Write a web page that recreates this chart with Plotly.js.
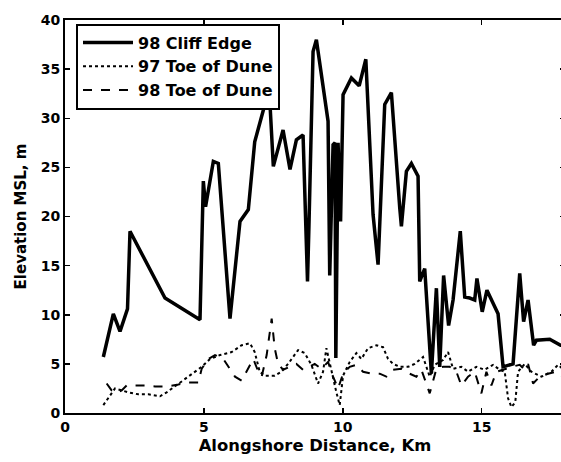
<!DOCTYPE html>
<html>
<head>
<meta charset="utf-8">
<script src="https://cdn.plot.ly/plotly-3.0.1.min.js"></script>
<style>
html,body{margin:0;padding:0;overflow:hidden;background:#fff;}
#chart{width:570px;height:462px;}
</style>
</head>
<body>
<div id="chart"></div>
<script>
// 98 Cliff Edge
const cliffX = [1.38,1.74,1.98,2.25,2.34,3.6,4.86,4.98,5.06,5.34,5.52,5.94,6.3,6.6,6.83,7.19,7.35,7.5,7.85,8.1,8.33,8.57,8.73,8.78,8.93,9.05,9.47,9.53,9.65,9.72,9.75,9.83,9.92,10.01,10.31,10.59,10.83,11.09,11.27,11.51,11.75,12.05,12.11,12.29,12.47,12.71,12.77,12.95,13.19,13.37,13.49,13.63,13.81,13.97,14.23,14.39,14.57,14.75,14.83,15.02,15.19,15.59,15.77,16.13,16.37,16.51,16.67,16.87,16.97,17.45,17.84,18.0];
const cliffY = [5.7,10.1,8.3,10.6,18.5,11.7,9.5,23.6,21.0,25.6,25.4,9.6,19.5,20.7,27.6,31.5,33.0,25.1,28.8,24.8,27.8,28.3,13.4,18.8,36.8,38.0,29.7,14.0,27.3,27.5,5.6,27.5,19.5,32.4,34.1,33.3,36.0,20.2,15.1,31.4,32.6,20.9,19.0,24.6,25.4,24.1,13.4,14.7,4.0,12.7,4.7,14.0,8.9,11.5,18.5,11.8,11.7,11.5,13.7,10.3,12.5,10.1,4.7,5.0,14.2,9.3,11.5,6.9,7.4,7.5,6.9,6.9];

// 97 Toe of Dune
const toe97X = [1.38,1.62,1.8,2.28,2.64,3.0,3.42,3.66,3.96,4.44,4.92,5.22,5.58,6.0,6.36,6.66,6.83,7.01,7.19,7.55,7.79,8.03,8.39,8.63,8.87,9.11,9.29,9.41,9.59,9.77,9.89,10.01,10.25,10.49,10.67,10.91,11.21,11.45,11.63,11.81,12.05,12.35,12.59,12.89,13.13,13.31,13.61,13.79,13.97,14.27,14.51,14.81,15.11,15.41,15.65,15.83,15.95,16.07,16.21,16.31,16.55,16.79,17.15,17.51,17.75,18.0];
const toe97Y = [0.8,1.8,2.5,2.1,1.9,1.9,1.7,2.1,2.7,3.7,4.7,5.5,5.9,6.2,6.9,7.1,6.2,4.2,3.8,3.8,4.2,5.0,6.4,6.1,4.9,3.0,4.2,6.6,4.2,2.1,0.8,3.8,5.2,6.1,5.5,6.6,6.9,6.7,5.5,5.0,4.7,4.7,5.0,5.7,3.7,4.9,5.4,6.2,4.5,4.7,4.2,4.7,4.4,4.9,4.4,4.2,1.5,0.6,1.1,4.2,5.0,4.2,3.7,4.2,4.9,4.3];

// 98 Toe of Dune
const toe98X = [1.5,1.68,1.86,2.04,2.22,2.52,2.88,3.24,3.66,4.08,4.38,4.8,4.92,5.16,5.4,5.7,5.94,6.12,6.36,6.54,6.78,6.96,7.08,7.26,7.44,7.55,7.67,7.85,8.09,8.33,8.57,8.81,8.99,9.23,9.47,9.65,9.83,10.01,10.25,10.49,10.73,11.03,11.33,11.57,11.81,12.11,12.41,12.65,12.83,13.13,13.37,13.61,13.85,14.09,14.27,14.51,14.75,14.99,15.17,15.35,15.53,15.77,16.07,16.37,16.55,16.67,16.85,17.09,17.39,17.69,18.0];
const toe98Y = [3.0,2.3,2.0,2.3,2.8,2.8,2.8,2.7,2.7,2.9,3.1,3.1,4.5,5.5,5.9,5.5,4.4,3.7,3.3,4.2,5.5,4.2,3.7,5.9,9.6,6.6,5.0,4.4,4.7,5.0,4.4,4.7,5.0,4.5,5.2,3.7,2.5,4.0,4.7,4.9,4.2,4.0,4.0,3.7,4.4,4.5,4.0,3.7,4.4,2.0,4.5,4.7,4.7,4.2,2.8,3.7,4.2,2.0,4.2,2.8,4.2,4.4,4.7,4.9,4.4,5.0,3.0,3.7,4.0,4.2,3.5];

const seriesNames = ['98 Cliff Edge', '97 Toe of Dune', '98 Toe of Dune'];
const xTicks = [0, 5, 10, 15];
const yTicks = [0, 5, 10, 15, 20, 25, 30, 35, 40];

const fontFam = 'DejaVu Sans, Verdana, sans-serif';

const traces = [
  {x: cliffX, y: cliffY, name: seriesNames[0], mode: 'lines',
   line: {color: '#000', width: 3.5}},
  {x: toe97X, y: toe97Y, name: seriesNames[1], mode: 'lines',
   line: {color: '#000', width: 2, dash: 'dot'}},
  {x: toe98X, y: toe98Y, name: seriesNames[2], mode: 'lines',
   line: {color: '#000', width: 2, dash: 'dash'}}
];

const layout = {
  width: 570, height: 462,
  margin: {l: 65, r: 5, t: 19.5, b: 49.3},
  paper_bgcolor: '#fff', plot_bgcolor: '#fff',
  font: {family: fontFam, color: '#000', size: 14, weight: 'bold'},
  showlegend: true,
  legend: {
    x: 0.022, y: 0.991, xanchor: 'left', yanchor: 'top',
    bgcolor: '#fff', bordercolor: '#000', borderwidth: 2,
    font: {family: fontFam, size: 16, color: '#000', weight: 'bold'},
    itemwidth: 50, tracegroupgap: 0
  },
  xaxis: {
    range: [0, 18], tickvals: xTicks, ticktext: xTicks.map(String),
    ticks: 'inside', ticklen: 5, tickwidth: 1.5, tickcolor: '#000',
    showline: true, linecolor: '#000', linewidth: 2, mirror: 'allticks',
    showgrid: false, zeroline: false,
    tickfont: {family: fontFam, size: 14, color: '#000', weight: 'bold'},
    title: {text: 'Alongshore Distance, Km', font: {family: fontFam, size: 16.4, color: '#000', weight: 'bold'}, standoff: 6}
  },
  yaxis: {
    range: [0, 40], tickvals: yTicks, ticktext: yTicks.map(String),
    ticks: 'inside', ticklen: 5, tickwidth: 1.5, tickcolor: '#000',
    showline: true, linecolor: '#000', linewidth: 2, mirror: 'allticks',
    showgrid: false, zeroline: false,
    tickfont: {family: fontFam, size: 14, color: '#000', weight: 'bold'},
    title: {text: 'Elevation MSL, m', font: {family: fontFam, size: 15, color: '#000', weight: 'bold'}, standoff: 10}
  }
};

Plotly.newPlot('chart', traces, layout, {displayModeBar: false, staticPlot: true});
</script>
</body>
</html>
